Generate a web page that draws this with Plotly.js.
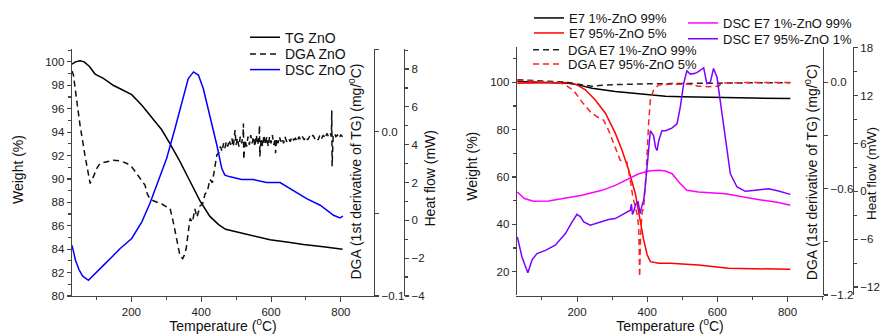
<!DOCTYPE html>
<html>
<head>
<meta charset="utf-8">
<script src="https://cdn.plot.ly/plotly-3.0.1.min.js"></script>
<style>html,body{margin:0;padding:0;background:#fff;}#chart{width:880px;height:334px;}</style>
</head>
<body>
<div id="chart"></div>
<script>
// ---------------- Left panel: ZnO ----------------
const tgZnO_T = [30, 40, 53, 65, 80, 96, 120, 148, 175, 201, 230, 258, 287, 311, 339, 368, 397, 425, 450, 470, 511, 550, 597, 650, 693, 750, 805];
const tgZnO_W = [99.8, 100.0, 100.1, 100.0, 99.6, 98.96, 98.6, 98.0, 97.6, 97.2, 96.3, 95.3, 94.2, 93.0, 91.5, 89.8, 88.1, 86.8, 86.1, 85.7, 85.4, 85.1, 84.8, 84.6, 84.4, 84.2, 84.0];

const dgaZnO_T = [30, 34, 44, 53, 67, 82, 92, 101, 110, 130, 148, 170, 187, 201, 210, 220, 230, 239, 246, 253, 263, 273, 287, 301, 311, 320, 330, 339, 347, 352, 357, 363, 368, 375, 382, 388, 397, 404, 411, 418, 425, 432, 440,
  445, 450, 455, 460, 464, 468, 472, 476, 480, 484, 488, 492, 496, 497, 500, 504, 508, 512, 516, 520, 521, 522, 526, 530, 534, 538, 542, 546, 550, 554, 558, 562, 566, 567, 568, 572, 576, 580, 584, 588, 592, 596, 600, 604, 608, 612, 613, 616, 620, 624, 628, 632, 636, 640, 645, 650, 655, 660, 665, 670, 675, 680, 685, 690, 695, 700, 705, 710, 715, 720, 725, 730, 735, 740, 745, 750, 755, 760, 765, 770, 773, 774, 775, 778, 782, 786, 790, 795, 800, 805];
const dgaZnO_D = [0.037, 0.0346, 0.0183, 0.0041, -0.0142, -0.0315, -0.027, -0.0223, -0.0193, -0.018, -0.0173, -0.0178, -0.0193, -0.0213, -0.024, -0.0274, -0.030, -0.0325, -0.038, -0.0406, -0.042, -0.0427, -0.044, -0.0457, -0.0467, -0.0549, -0.065, -0.0752, -0.0772, -0.075, -0.0711, -0.061, -0.0528, -0.055, -0.047, -0.052, -0.045, -0.044, -0.038, -0.036, -0.029, -0.031, -0.022,
  -0.014, -0.013, -0.009, -0.012, -0.007, -0.010, -0.006, -0.009, -0.005, -0.008, -0.004, -0.009, -0.003, 0.001, -0.008, -0.004, -0.009, -0.003, -0.007, -0.002, 0.005, -0.017, -0.005, -0.009, -0.003, -0.008, -0.002, -0.007, -0.003, -0.009, -0.002, -0.008, -0.003, 0.004, -0.015, -0.004, -0.009, -0.002, -0.008, -0.003, -0.009, -0.003, -0.007, -0.002, -0.008, -0.004, -0.013, -0.004, -0.007, -0.003, -0.006, -0.004, -0.007, -0.003, -0.006, -0.004, -0.006, -0.003, -0.005, -0.004, -0.006, -0.003, -0.005, -0.003, -0.005, -0.003, -0.005, -0.003, -0.004, -0.002, -0.004, -0.003, -0.005, -0.002, -0.004, -0.002, -0.004, -0.001, -0.003, -0.001, -0.003, 0.013, -0.021, -0.003, -0.001, -0.003, -0.002, -0.004, -0.002, -0.003];

const dscZnO_T = [30, 40, 50, 60, 77, 90, 100, 120, 145, 168, 201, 230, 253, 277, 301, 325, 349, 363, 378, 392, 406, 425, 445, 459, 468, 483, 502, 516, 549, 587, 626, 664, 702, 741, 779, 798, 806];
const dscZnO_H = [-1.32, -2.11, -2.6, -2.94, -3.17, -2.92, -2.75, -2.38, -1.92, -1.49, -0.96, -0.08, 0.89, 2.03, 3.27, 4.86, 6.62, 7.50, 7.85, 7.68, 6.97, 5.56, 3.97, 2.74, 2.39, 2.30, 2.24, 2.16, 2.16, 2.0, 2.0, 1.59, 1.15, 0.80, 0.27, 0.13, 0.23];

// ---------------- Right panel: E7 / ZnO ----------------
const tgE7a_T = [30, 100, 150, 175, 200, 243, 309, 357, 404, 452, 499, 594, 700, 808];
const tgE7a_W = [100.3, 100.1, 99.9, 99.6, 99.0, 97.5, 96.1, 95.4, 94.7, 94.1, 93.9, 93.5, 93.3, 93.1];

const tgE7b_T = [30, 100, 167, 185, 200, 224, 252, 281, 309, 328, 347, 366, 380, 390, 400, 409, 433, 466, 546, 632, 700, 808];
const tgE7b_W = [99.6, 99.9, 99.9, 99.6, 98.9, 96.8, 92.5, 86.9, 78.5, 71.4, 63.0, 53.1, 41.8, 33.4, 27.1, 24.2, 23.5, 23.5, 22.8, 21.4, 21.2, 21.0];

const dgaE7a_T = [30, 100, 170, 190, 214, 243, 271, 309, 400, 500, 600, 700, 808];
const dgaE7a_D = [0.015, 0.008, 0.002, -0.006, -0.015, -0.022, -0.016, -0.012, -0.008, -0.004, -0.004, -0.002, -0.002];

const dgaE7b_T = [30, 100, 150, 167, 190, 214, 238, 257, 276, 290, 309, 323, 333, 342, 352, 359, 366, 372, 376, 378.5, 381, 385, 390, 397, 404, 409, 418, 432, 466, 520, 546, 575, 603, 613, 700, 808];
const dgaE7b_D = [0.013, 0.005, -0.002, -0.015, -0.044, -0.11, -0.166, -0.194, -0.213, -0.27, -0.364, -0.439, -0.449, -0.449, -0.552, -0.646, -0.703, -0.75, -0.82, -1.098, -0.88, -0.74, -0.70, -0.514, -0.232, -0.1, -0.044, -0.015, -0.01, -0.01, -0.021, -0.024, -0.021, -0.003, 0.0, 0.0];

const dscE7a_T = [30, 50, 76, 119, 214, 271, 309, 347, 376, 404, 433, 452, 471, 490, 513, 546, 623, 699, 774, 808];
const dscE7a_H = [-0.08, -0.9, -1.25, -1.21, -0.5, 0.125, 0.75, 1.59, 2.21, 2.54, 2.63, 2.55, 2.21, 1.16, 0.125, -0.08, -0.29, -0.91, -1.41, -1.75];

const dscE7b_T = [30, 36, 43, 52, 60, 66, 72, 86, 110, 138, 167, 186, 200, 210, 219, 238, 262, 290, 309, 328, 352, 355, 358, 361, 368, 374, 380, 385, 390, 395, 400, 409, 418, 424, 428, 433, 442, 452, 466, 471, 485, 494, 504, 513, 523, 537, 546, 561, 570, 580, 589, 599, 608, 623, 637, 656, 680, 708, 746, 774, 808];
const dscE7b_H = [-5.71, -7.0, -8.2, -9.3, -10.2, -9.4, -8.6, -7.8, -7.4, -6.75, -5.3, -3.83, -2.88, -3.2, -3.83, -4.25, -3.96, -3.54, -3.42, -3.0, -2.37, -1.6, -2.9, -2.58, -1.54, -1.33, -2.79, -1.8, -1.12, 0.8, 3.46, 7.6, 7.0, 5.5, 5.12, 6.37, 7.6, 7.6, 7.84, 7.96, 8.46, 10.5, 13.5, 15.1, 14.7, 14.8, 15.0, 15.5, 13.5, 13.7, 15.4, 14.3, 11.4, 6.4, 2.2, 0.54, 0.0, 0.125, 0.33, 0.04, -0.38];

// ---------------- geometry helpers (layout only) ----------------
const FW = 880, FH = 334, ML = 72, MB = 38;
const px2x = p => (p - ML) / (FW - ML);
const py2y = p => (FH - MB - p) / (FH - MB);
const FONT = 'Liberation Sans, Arial, sans-serif';
const AX = '#444';
const TICKF = {family: FONT, size: 11.5, color: '#222'};

function trace(x, y, name, xa, ya, color, dash, legendId) {
  return {x: x, y: y, name: name, type: 'scatter', mode: 'lines', xaxis: xa, yaxis: ya,
    line: {color: color, width: 1.5, dash: dash || 'solid'}, legend: legendId, showlegend: true, hoverinfo: 'skip'};
}

const data = [
  trace(tgZnO_T, tgZnO_W, 'TG ZnO', 'x', 'y', '#000000', 'solid', 'legend'),
  trace(dgaZnO_T, dgaZnO_D, 'DGA ZnO', 'x', 'y2', '#111111', '6px,4px', 'legend2'),
  trace(dscZnO_T, dscZnO_H, 'DSC ZnO', 'x', 'y3', '#0000ff', 'solid', 'legend3'),
  trace(tgE7a_T, tgE7a_W, 'E7 1%-ZnO 99%', 'x2', 'y4', '#000000', 'solid', 'legend4'),
  trace(tgE7b_T, tgE7b_W, 'E7 95%-ZnO 5%', 'x2', 'y4', '#ff0000', 'solid', 'legend5'),
  trace(dgaE7a_T, dgaE7a_D, 'DGA E7 1%-ZnO 99%', 'x2', 'y5', '#222222', '6px,4px', 'legend6'),
  trace(dgaE7b_T, dgaE7b_D, 'DGA E7 95%-ZnO 5%', 'x2', 'y5', '#ff2020', '6px,4px', 'legend7'),
  trace(dscE7a_T, dscE7a_H, 'DSC E7 1%-ZnO 99%', 'x2', 'y6', '#ff00ff', 'solid', 'legend8'),
  trace(dscE7b_T, dscE7b_H, 'DSC E7 95%-ZnO 1%', 'x2', 'y6', '#7f00ff', 'solid', 'legend9')
];

function leg(lineStartPx, centerPy, size) {
  return {x: px2x(lineStartPx - 5), y: py2y(centerPy), xanchor: 'left', yanchor: 'middle',
    bgcolor: 'rgba(0,0,0,0)', borderwidth: 0, itemwidth: 30,
    font: {family: FONT, size: size, color: '#111'}};
}

function yax(extra) {
  return Object.assign({showline: true, linecolor: AX, linewidth: 1.3, showgrid: false, zeroline: false,
    ticks: 'outside', ticklen: 4, tickcolor: AX, tickwidth: 1.2, tickfont: TICKF, fixedrange: true}, extra);
}

function ann(text, xp, yp, rot, size) {
  return {text: text, xref: 'paper', yref: 'paper', x: px2x(xp), y: py2y(yp), xanchor: 'center', yanchor: 'middle',
    showarrow: false, textangle: rot, borderpad: 0, font: {family: FONT, size: size || 14, color: '#111'}};
}

const minorX = {dtick: 100, tick0: 0, ticks: 'outside', ticklen: 3, tickcolor: AX};

const layout = {
  width: FW, height: FH,
  margin: {l: ML, r: 0, t: 0, b: MB, pad: 0},
  paper_bgcolor: '#ffffff', plot_bgcolor: 'rgba(0,0,0,0)',
  font: {family: FONT, color: '#111'},
  xaxis: {domain: [0, px2x(374)], range: [30, 895], dtick: 200, tick0: 0, minor: minorX,
    showline: true, linecolor: AX, linewidth: 1.3, showgrid: false, zeroline: false, ticks: 'outside', ticklen: 5,
    tickcolor: AX, tickfont: TICKF, title: {text: 'Temperature (<sup>0</sup>C)', font: {family: FONT, size: 14, color: '#111'}, standoff: 6}},
  xaxis2: {domain: [px2x(517), px2x(823)], range: [29, 901], dtick: 200, tick0: 0, minor: minorX,
    showline: true, linecolor: AX, linewidth: 1.3, showgrid: false, zeroline: false, ticks: 'outside', ticklen: 5,
    tickcolor: AX, tickfont: TICKF, title: {text: 'Temperature (<sup>0</sup>C)', font: {family: FONT, size: 14, color: '#111'}, standoff: 6}},
  yaxis: yax({domain: [0, py2y(49)], range: [80, 101.1], dtick: 2, tick0: 0, anchor: 'x',
    minor: {dtick: 1, tick0: 0, ticks: 'outside', ticklen: 3, tickcolor: AX}}),
  yaxis2: yax({range: [-0.1, 0.0504], dtick: 0.1, tick0: 0, tickformat: '.1f', overlaying: 'y', side: 'right', anchor: 'x',
    minor: {dtick: 0.05, tick0: 0, ticks: 'outside', ticklen: 4, tickcolor: AX}}),
  yaxis3: yax({range: [-4, 9.06], dtick: 2, tick0: 0, overlaying: 'y', side: 'right', anchor: 'free', position: px2x(404),
    minor: {dtick: 1, tick0: 0, ticks: 'outside', ticklen: 3, tickcolor: AX}}),
  yaxis4: yax({domain: [py2y(295), py2y(47)], range: [10.1, 114.9], dtick: 20, tick0: 0, anchor: 'x2',
    minor: {dtick: 10, tick0: 0, ticks: 'outside', ticklen: 3, tickcolor: AX}}),
  yaxis5: yax({range: [-1.2, 0.2], dtick: 0.6, tick0: 0, tickformat: '.1f', overlaying: 'y4', side: 'right', anchor: 'x2',
    minor: {dtick: 0.3, tick0: 0, ticks: 'outside', ticklen: 4, tickcolor: AX}}),
  yaxis6: yax({range: [-13, 18.1], dtick: 6, tick0: 0, overlaying: 'y4', side: 'right', anchor: 'free', position: px2x(852.7),
    minor: {dtick: 3, tick0: 0, ticks: 'outside', ticklen: 3, tickcolor: AX}}),
  legend: leg(250, 37.7, 14),
  legend2: leg(250, 54.3, 14),
  legend3: leg(250, 70, 14),
  legend4: leg(534, 18, 13),
  legend5: leg(534, 33, 13),
  legend6: leg(533, 49.7, 13),
  legend7: leg(533, 64, 13),
  legend8: leg(688, 23, 13),
  legend9: leg(688, 38.7, 13),
  annotations: [
    ann('Weight (%)', 18, 170, -90),
    ann('DGA (1st derivative of TG) (mg/<sup>0</sup>C)', 355, 171.5, -90),
    ann('Heat flow (mW)', 429, 178.5, -90),
    ann('Weight (%)', 471.7, 166, -90),
    ann('DGA (1st derivative of TG) (mg/<sup>0</sup>C)', 810.7, 172.5, -90),
    ann('Heat flow (mW)', 871.5, 173.5, -90, 13.5)
  ],
  showlegend: true
};

Plotly.newPlot('chart', data, layout, {displayModeBar: false, staticPlot: true});
</script>
</body>
</html>
